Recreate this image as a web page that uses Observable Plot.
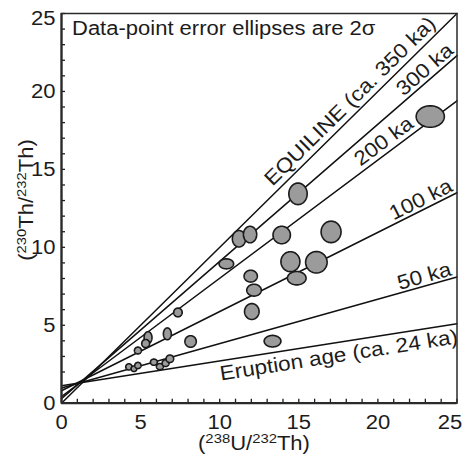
<!DOCTYPE html>
<html><head><meta charset="utf-8">
<script src="https://cdn.jsdelivr.net/npm/d3@7"></script>
<script src="https://cdn.jsdelivr.net/npm/@observablehq/plot@0.6"></script>
<style>body{margin:0;background:#fff} svg{display:block}</style>
</head><body><div id="chart"></div>
<script>
// ---- data: error ellipses (centre and 2-sigma half-widths) ----
const ellX  = [23.31,14.95,11.22,11.92,13.92,17.04,10.42,14.47,16.11,14.87,11.96,12.17,12.03,13.34,7.36,5.47,5.32,6.69,4.83,8.16,4.26,4.58,4.83,5.84,6.22,6.58,6.85];
const ellY  = [18.39,13.43,10.55,10.82,10.79,10.99,8.94,9.08,9.04,8.02,8.15,7.25,5.88,3.98,5.82,4.21,3.83,4.45,3.38,3.96,2.33,2.21,2.42,2.63,2.35,2.57,2.85];
const ellSX = [0.89,0.58,0.42,0.42,0.55,0.63,0.46,0.60,0.68,0.59,0.42,0.46,0.46,0.53,0.27,0.25,0.25,0.25,0.22,0.36,0.20,0.18,0.20,0.22,0.22,0.22,0.24];
const ellSY = [0.69,0.69,0.53,0.53,0.56,0.69,0.32,0.64,0.69,0.43,0.38,0.38,0.51,0.37,0.28,0.38,0.26,0.38,0.22,0.37,0.20,0.18,0.20,0.20,0.20,0.22,0.24];

// ---- isochron lines ----
const lineNames = ["EQUILINE (ca. 350 ka)","300 ka","200 ka","100 ka","50 ka","Eruption age (ca. 24 ka)"];
const lineAt0  = [0, 0.29, 0.43, 0.80, 0.97, 1.12];
const lineAt25 = [25, 22.3, 19.4, 13.5, 8.1, 5.1];

const xTickLabels = [0,5,10,15,20];
const yTickLabels = [0,5,10,15,20];
const lastTick = [25];

// ---- layout ----
const W = 462, H = 463, mL = 61, mR = 5.5, mT = 13, mB = 60.3;
const kx = (W - mL - mR) / 25, ky = (H - mT - mB) / 25;
const FONT = "Liberation Sans, Arial, Helvetica, sans-serif";
const INK = "#1c1c1c";
const STRETCH = 1.1;

const segs = lineNames.flatMap((name, i) => [
  {name, x: 0, y: lineAt0[i]}, {name, x: 25, y: lineAt25[i]}
]);

// label placement along each line (layout)
const labelAlong = [18.8, 23.4, 20.8, 23.0, 23.1, 17.4];
const labelOffset = [6, 4, 5, 3.5, 3, -5];
const labels = lineNames.map((name, i) => {
  const m = (lineAt25[i] - lineAt0[i]) / 25;
  const th = Math.atan(m * ky / kx);
  const d = labelOffset[i];
  const xa = labelAlong[i];
  return {
    text: name,
    x: xa - d * Math.sin(th) / kx,
    y: lineAt0[i] + m * xa + d * Math.cos(th) / ky,
    rotate: -th * 180 / Math.PI,
    below: d < 0
  };
});

const rings = [];
ellX.forEach((cx, i) => {
  for (let k = 0; k <= 60; k++) {
    const t = 2 * Math.PI * k / 60;
    rings.push({id: i, x: cx + ellSX[i] * Math.cos(t), y: ellY[i] + ellSY[i] * Math.sin(t)});
  }
});

const minor = d3.range(0, 26);

const chart = Plot.plot({
  width: W, height: H,
  marginLeft: mL, marginRight: mR, marginTop: mT, marginBottom: mB,
  x: {domain: [0, 25]},
  y: {domain: [0, 25]},
  style: {fontFamily: FONT, color: INK, background: "#fff"},
  marks: [
    Plot.axisX({ticks: xTickLabels, tickSize: 0, tickPadding: 12, fontSize: 20, label: null}),
    Plot.axisX({ticks: lastTick, tickSize: 0, tickPadding: 12, fontSize: 20, label: null, dx: -7}),
    Plot.axisY({ticks: yTickLabels, tickSize: 0, tickPadding: 6, fontSize: 20, label: null}),
    Plot.axisY({ticks: lastTick, tickSize: 0, tickPadding: 6, fontSize: 20, label: null, dy: 5}),
    Plot.ruleX(minor, {y1: 0, y2: 4 / ky, stroke: INK, strokeWidth: 1.3}),
    Plot.ruleY(minor, {x1: 0, x2: 4 / kx, stroke: INK, strokeWidth: 1.3}),
    Plot.line(segs, {x: "x", y: "y", z: "name", stroke: "#111", strokeWidth: 1.5}),
    Plot.line(rings, {x: "x", y: "y", z: "id", fill: "#9b9b9b", stroke: "#1a1a1a", strokeWidth: 1.6, curve: "linear-closed"}),
    Plot.text(labels.filter(d => !d.below), {x: "x", y: "y", text: "text", rotate: "rotate", textAnchor: "middle", lineAnchor: "bottom", fontSize: 20.5, fill: INK}),
    Plot.text(labels.filter(d => d.below), {x: "x", y: "y", text: "text", rotate: "rotate", textAnchor: "middle", lineAnchor: "top", fontSize: 20.5, fill: INK}),
    Plot.frame({stroke: "#2a2a2a", strokeWidth: 1.5}),
    Plot.ruleX([0], {stroke: "#2a2a2a", strokeWidth: 2.2}),
    Plot.ruleY([0], {stroke: "#2a2a2a", strokeWidth: 2.2})
  ]
});

const svg = d3.select(chart);
// note inside the plot
svg.append("text").attr("x", 72).attr("y", 35).attr("text-anchor", "start")
  .attr("font-family", FONT).attr("font-size", 20).attr("fill", INK)
  .text("Data-point error ellipses are 2σ");

function isoLabel(g, a, b, c) {
  g.append("tspan").text("(");
  g.append("tspan").attr("font-size", 13.5).attr("dy", -7.5).text(a);
  g.append("tspan").attr("dy", 7.5).text(b + "/");
  g.append("tspan").attr("font-size", 13.5).attr("dy", -7.5).text(c);
  g.append("tspan").attr("dy", 7.5).text("Th)");
}
const xl = svg.append("text").attr("x", 254).attr("y", 450).attr("text-anchor", "middle")
  .attr("font-family", FONT).attr("font-size", 20).attr("fill", INK);
isoLabel(xl, "238", "U", "232");
const yl = svg.append("text").attr("transform", "translate(33,200) rotate(-90)").attr("text-anchor", "middle")
  .attr("font-family", FONT).attr("font-size", 20).attr("fill", INK);
isoLabel(yl, "230", "Th", "232");

document.getElementById("chart").appendChild(chart);

// the reference typeface is slightly wider than Arial: widen every text a little
svg.selectAll("text").each(function() {
  const len = this.getComputedTextLength();
  if (len > 0) {
    this.setAttribute("textLength", (len * STRETCH).toFixed(1));
    this.setAttribute("lengthAdjust", "spacingAndGlyphs");
  }
});
</script>
</body></html>
